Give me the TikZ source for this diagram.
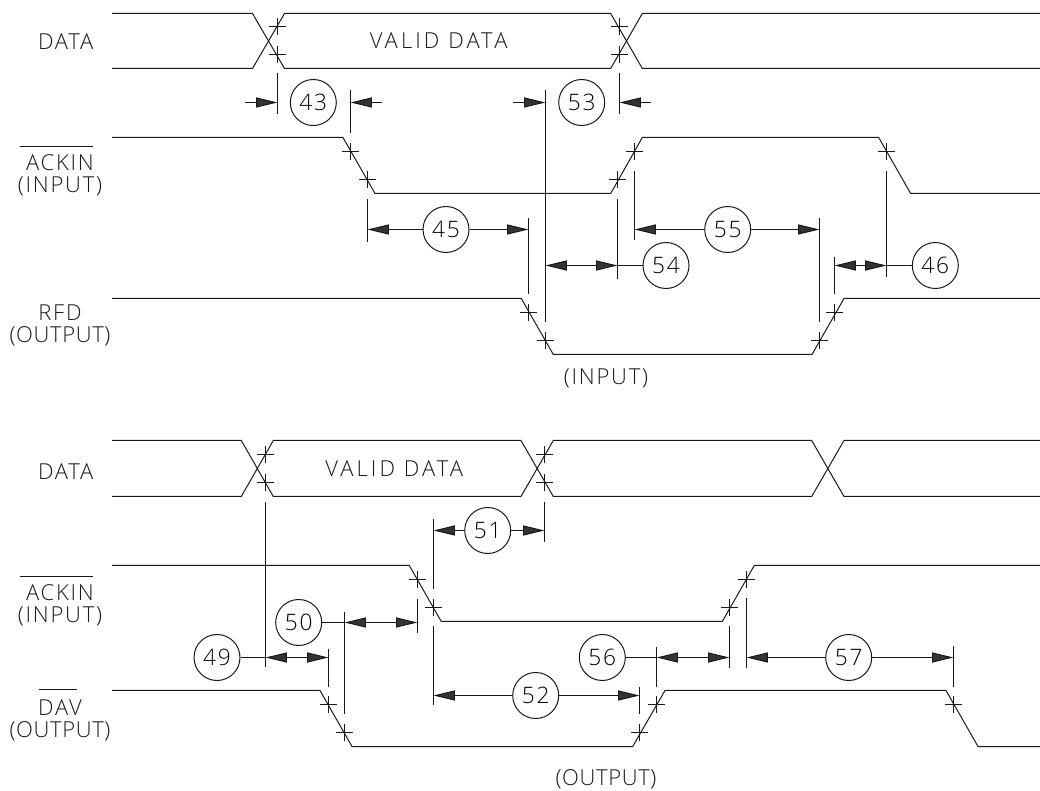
\documentclass[tikz,border=0pt]{standalone}
\usepackage{fontspec}
\setmainfont{Open Sans Light}[LetterSpace=8]
\newcommand{\wideLS}{\addfontfeature{LetterSpace=14}}
\newcommand{\tightLS}{\addfontfeature{LetterSpace=3}}
\usetikzlibrary{arrows.meta}
\tikzset{
  wave/.style={line width=0.75pt,line join=miter,draw=black!90},
  ext/.style={line width=0.75pt,draw=black!90},
  dimline/.style={line width=0.75pt,draw=black!90,-{Triangle[length=16pt,width=7.5pt,fill=black!80]}},
  dimboth/.style={line width=0.75pt,draw=black!90,{Triangle[length=16pt,width=7.5pt,fill=black!80]}-{Triangle[length=16pt,width=7.5pt,fill=black!80]}},
  bubble/.style={circle,draw=black!90,line width=0.75pt,minimum size=34.5pt,inner sep=0pt,font=\fontsize{17}{17}\selectfont},
  lab/.style={inner sep=0pt,font=\fontsize{16.5}{16.5}\selectfont,text=black!90},
}
\begin{document}
\begin{tikzpicture}[x=0.75pt,y=-0.75pt]
\useasboundingbox (0,0) rectangle (1040,791);
% ---- labels
\node[lab] (t1) at (65.7,41.3) {DATA};
\node[lab] (t2) at (438.7,41) {\wideLS VALID DATA};
\node[lab] (t3) at (60,162.7) {ACKIN};
\node[lab] (t4) at (60,186.7) {(INPUT)};
\node[lab] (t5) at (60,313) {RFD};
\node[lab] (t6) at (60,336.7) {\tightLS (OUTPUT)};
\node[lab] (t7) at (606,378) {(INPUT)};
\node[lab] (b1) at (65.7,471.3) {DATA};
\node[lab] (b2) at (394.3,468.3) {\wideLS VALID DATA};
\node[lab] (b3) at (60,593) {ACKIN};
\node[lab] (b4) at (60,616.7) {(INPUT)};
\node[lab] (b5) at (60,707.3) {DAV};
\node[lab] (b6) at (60,731) {\tightLS (OUTPUT)};
\node[lab] (b7) at (606,779) {\tightLS (OUTPUT)};
\draw[ext] (20,146.5) -- (93,146.5);
\draw[ext] (20,576.5) -- (93,576.5);
\draw[ext] (39.3,689.5) -- (76.7,689.5);
% ---- waveforms, upper diagram
\draw[wave] (112,13.5) -- (252.5,13.5) -- (284.5,68.5) -- (610.7,68.5) -- (642.3,13.5) -- (1040,13.5);
\draw[wave] (112,68.5) -- (252.5,68.5) -- (284.5,13.5) -- (610.7,13.5) -- (642.3,68.5) -- (1040,68.5);
\draw[wave] (112,137.5) -- (343,137.5) -- (375,193.5) -- (610.7,193.5) -- (642.3,137.5) -- (878.7,137.5) -- (910.7,193.5) -- (1040,193.5);
\draw[wave] (112,298.5) -- (521.3,298.5) -- (553.3,354.5) -- (812,354.5) -- (844,298.5) -- (1040,298.5);
% ---- waveforms, lower diagram
\draw[wave] (112,440.5) -- (241.3,440.5) -- (273.3,496.5) -- (521,496.5) -- (553.3,440.5) -- (811.7,440.5) -- (844,496.5) -- (1040,496.5);
\draw[wave] (112,496.5) -- (241.3,496.5) -- (273.3,440.5) -- (521,440.5) -- (553.3,496.5) -- (811.7,496.5) -- (844,440.5) -- (1040,440.5);
\draw[wave] (112,565.5) -- (409.3,565.5) -- (441.3,621.5) -- (722.3,621.5) -- (754.3,565.5) -- (1040,565.5);
\draw[wave] (112,690.5) -- (320,690.5) -- (352,746.5) -- (632.7,746.5) -- (665,690.5) -- (946,690.5) -- (978,746.5) -- (1040,746.5);
% ---- crosses
\foreach \x/\y in {277.5/26.5,277.5/54.5,619.5/26.5,619.5/54.5,350.5/151.5,367.5/179.5,617.5/179.5,634.5/151.5,886.5/151.5,528.5/312.5,545.5/340.5,819.5/340.5,834.5/312.5,265.5/454.5,265.5/482.5,544.5/454.5,544.5/482.5,417.5/579.5,433.5/607.5,729.5/607.5,746.5/579.5,328.5/704.5,344.5/732.5,639.5/732.5,656.5/704.5,953.5/704.5}{
  \draw[ext] (\x-8.3,\y) -- (\x+8.3,\y);
  \draw[ext] (\x,\y-8.3) -- (\x,\y+8.3);
}
% ---- extension lines
\foreach \x/\a/\b in {277.5/73.3/113.7,350.5/90.3/133.3,545.5/90.3/322.3,619.5/73.3/113.7,367.5/199/242.3,528.5/218.3/294.3,617.5/199/279,634.5/171/240,819.5/218.3/322.3,834.5/256.7/294.3,886.5/171/276.7,265.5/501.7/667.3,328.5/649/686.7,344.5/612.3/714.3,417.5/598.7/633.3,433.5/519/589,544.5/501.7/542.3,433.5/626/705.3,639.5/686.7/714,656.5/647.3/686.7,729.5/626/668.3,746.5/598.3/668.3,953.5/646/686.7}{
  \draw[ext] (\x,\a) -- (\x,\b);
}
% ---- bubbles
\node[bubble] (c43) at (313.3,102.5) {43};
\node[bubble] (c53) at (581.7,102.5) {53};
\node[bubble] (c45) at (446,229.5) {45};
\node[bubble] (c55) at (727.7,229.5) {55};
\node[bubble] (c54) at (666,265.5) {54};
\node[bubble] (c46) at (935.3,265.5) {46};
\node[bubble] (c49) at (217,657.5) {49};
\node[bubble] (c50) at (298.7,622.5) {50};
\node[bubble] (c51) at (487.7,530.5) {51};
\node[bubble] (c52) at (535.7,695.5) {52};
\node[bubble] (c56) at (602.3,657.5) {56};
\node[bubble] (c57) at (848.7,657.5) {57};
% ---- dimension end points
\coordinate (p43t) at (245,102.5);   \coordinate (p43a) at (277.5,102.5);
\coordinate (p43b) at (350.5,102.5); \coordinate (p43u) at (382.3,102.5);
\coordinate (p53t) at (513.3,102.5); \coordinate (p53a) at (545.5,102.5);
\coordinate (p53b) at (619.5,102.5); \coordinate (p53u) at (650.7,102.5);
\coordinate (p45a) at (367.5,229.5); \coordinate (p45b) at (528.5,229.5);
\coordinate (p55a) at (634.5,229.5); \coordinate (p55b) at (819.5,229.5);
\coordinate (p54a) at (545.5,265.5); \coordinate (p54b) at (617.5,265.5);
\coordinate (p46a) at (834.5,265.5); \coordinate (p46b) at (886.5,265.5);
\coordinate (p49a) at (265.5,657.5); \coordinate (p49b) at (328.5,657.5);
\coordinate (p50a) at (344.5,622.5); \coordinate (p50b) at (417.5,622.5);
\coordinate (p51a) at (433.5,530.5); \coordinate (p51b) at (544.5,530.5);
\coordinate (p52a) at (433.5,695.5); \coordinate (p52b) at (639.5,695.5);
\coordinate (p56a) at (656.5,657.5); \coordinate (p56b) at (729.5,657.5);
\coordinate (p57a) at (746.5,657.5); \coordinate (p57b) at (953.5,657.5);
% ---- dimension arrows
\draw[dimline] (p43t) -- (p43a);
\draw[dimline] (p43u) -- (p43b);
\draw[dimline] (p53t) -- (p53a);
\draw[dimline] (p53u) -- (p53b);
\draw[dimline] (c45) -- (p45a);
\draw[dimline] (c45) -- (p45b);
\draw[dimline] (c55) -- (p55a);
\draw[dimline] (c55) -- (p55b);
\draw[dimboth] (p54a) -- (p54b);
\draw[ext] (c54) -- (p54b);
\draw[dimboth] (p46a) -- (p46b);
\draw[ext] (c46) -- (p46b);
\draw[dimboth] (p49a) -- (p49b);
\draw[ext] (c49) -- (p49a);
\draw[dimboth] (p50a) -- (p50b);
\draw[ext] (c50) -- (p50a);
\draw[dimline] (c51) -- (p51a);
\draw[dimline] (c51) -- (p51b);
\draw[dimline] (c52) -- (p52a);
\draw[dimline] (c52) -- (p52b);
\draw[dimboth] (p56a) -- (p56b);
\draw[ext] (c56) -- (p56a);
\draw[dimline] (c57) -- (p57a);
\draw[dimline] (c57) -- (p57b);
\end{tikzpicture}
\end{document}
